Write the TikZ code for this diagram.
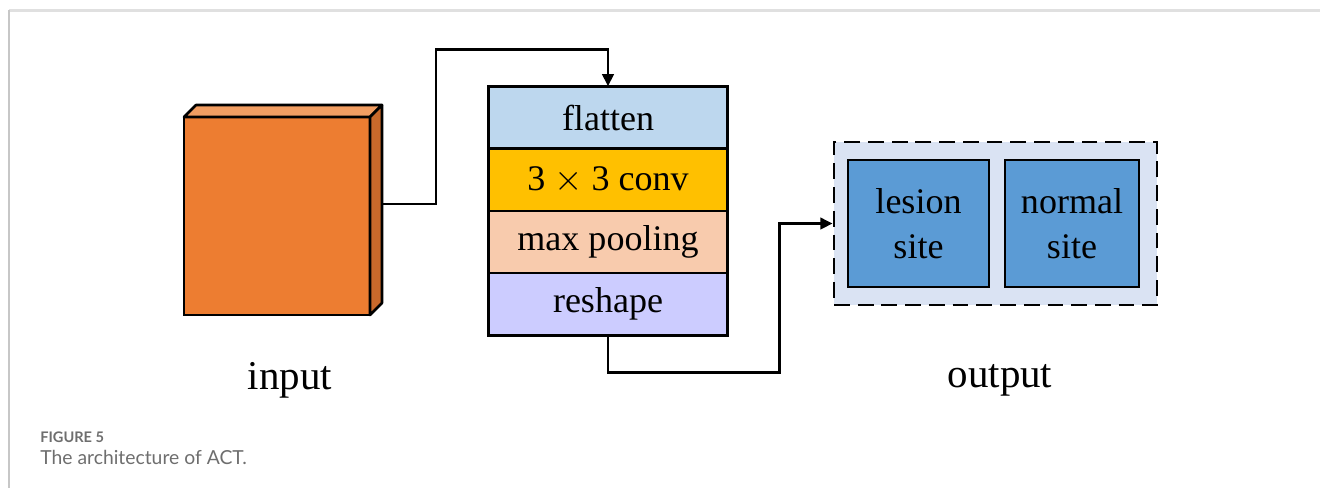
\documentclass[tikz,border=0pt]{standalone}
\usepackage{fontspec}
\setmainfont{Liberation Serif}
\newfontfamily\capfont{Lato}
\usepackage{tikz}
\usetikzlibrary{positioning,calc,arrows.meta}
\definecolor{inorange}{HTML}{ED7D31}
\definecolor{intop}{HTML}{F29E62}
\definecolor{inside}{HTML}{C9692B}
\definecolor{flatblue}{HTML}{BDD7EE}
\definecolor{convgold}{HTML}{FFC000}
\definecolor{poolpeach}{HTML}{F8CBAD}
\definecolor{reshlilac}{HTML}{CCCCFF}
\definecolor{outpale}{HTML}{DAE3F3}
\definecolor{siteblue}{HTML}{5B9BD5}
\definecolor{capgrey}{HTML}{6E6E6E}
\tikzset{
	layerbox/.style={rectangle, draw=black, line width=1.5pt, outer sep=0pt, minimum width=4.78cm, minimum height=1.245cm, font=\fontsize{20.5}{24}\selectfont},
	sitebox/.style={rectangle, draw=black, line width=1.5pt, fill=siteblue, minimum height=2.54cm, align=center, font=\fontsize{20.5}{25.6}\selectfont},
	flow/.style={draw=black, line width=1.5pt, -{Triangle[length=7pt,width=6.5pt]}},
	biglabel/.style={font=\fontsize{23.3}{28}\selectfont}
}

\begin{document}
\begin{tikzpicture}[x=0.02cm,y=-0.02cm]
	\useasboundingbox (0,0) rectangle (1320,488);
	\draw[color=black!12, line width=1.6pt] (9,10.5) -- (1320,10.5);
	\draw[color=black!22, line width=1pt] (9,10) -- (9,488);

	\node (input) [rectangle, draw=black, line width=1.5pt, fill=inorange, outer sep=0pt, minimum width=3.72cm, minimum height=3.96cm] at (277,216) {};
	\draw[line width=1.5pt, fill=intop, line join=round] (input.north west) -- ++(12,-12) -- ($(input.north east)+(12,-12)$) -- (input.north east) -- cycle;
	\draw[line width=1.5pt, fill=inside, line join=round] (input.north east) -- ++(12,-12) -- ($(input.south east)+(12,-12)$) -- (input.south east) -- cycle;
	\coordinate (inback) at ($(input.east)+(12,-12)$);

	\node (flatten) [layerbox, fill=flatblue] at (608,117.5) {flatten};
	\node (conv) [layerbox, fill=convgold, below=0pt of flatten] {3 $\times$ 3 conv};
	\node (pool) [layerbox, fill=poolpeach, below=0pt of conv] {max pooling};
	\node (reshape) [layerbox, fill=reshlilac, below=0pt of pool] {reshape};

	\node (outbox) [rectangle, draw=black, line width=1.6pt, dash pattern=on 9pt off 4.5pt, fill=outpale, minimum width=6.46cm, minimum height=3.26cm] at (995.5,223.5) {};
	\node (lesion) [sitebox, minimum width=2.82cm] at (918.5,223.5) {lesion\\site};
	\node (normal) [sitebox, minimum width=2.68cm] at (1072,223.5) {normal\\site};

	\draw[flow] (inback) -- ++(54,0) |- ($(flatten.north)+(0,-37)$) -- (flatten.north);
	\draw[flow] (reshape.south) -- ++(0,37) -| ($(outbox.west)+(-53,0)$) -- (outbox.west);

	\node (inlabel) [biglabel] at (290,380) {input};
	\node (outlabel) [biglabel] at (1000,380) {output};

	\node (fignum) [anchor=base west, inner sep=0pt, text=capgrey, font=\capfont\fontsize{8.3}{10}\selectfont\bfseries] at (40,442) {FIGURE 5};
	\node (figcap) [anchor=base west, inner sep=0pt, text=capgrey, font=\capfont\fontsize{11}{13}\selectfont] at (40,464) {The architecture of ACT.};
\end{tikzpicture}
\end{document}
